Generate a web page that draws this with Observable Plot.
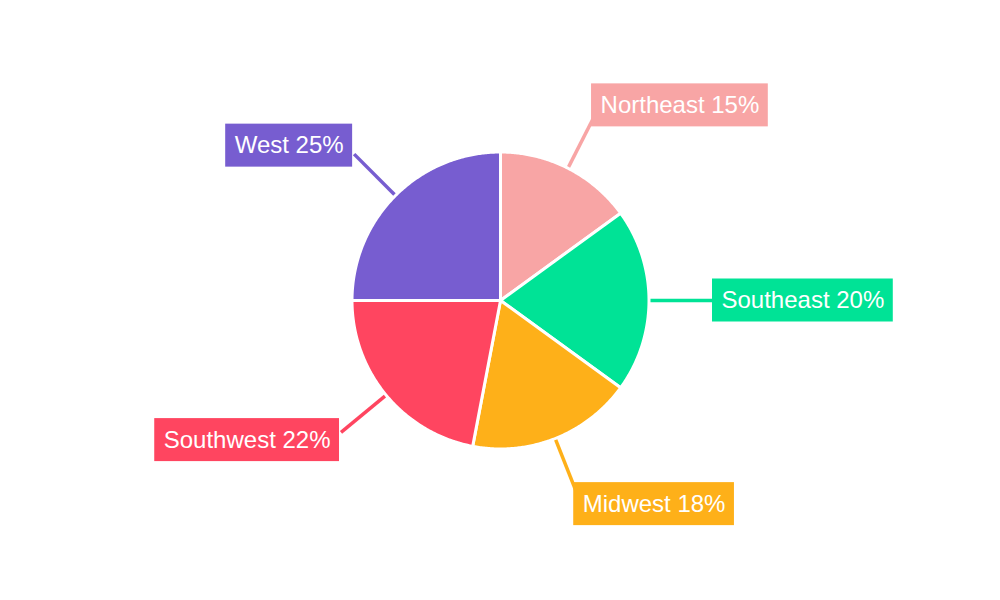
<!DOCTYPE html>
<html>
<head>
<meta charset="utf-8">
<script src="https://cdn.jsdelivr.net/npm/d3@7"></script>
<script src="https://cdn.jsdelivr.net/npm/@observablehq/plot@0.6"></script>
<style>
  html, body { margin: 0; padding: 0; background: #fff; }
  #chart { width: 1000px; height: 600px; }
</style>
</head>
<body>
<div id="chart"></div>
<script>
const regions = ["Northeast", "Southeast", "Midwest", "Southwest", "West"];
const shares = [15, 20, 18, 22, 25];
const colors = ["#F8A5A5", "#00E396", "#FEB019", "#FF4560", "#775DD0"];

const W = 1000, H = 600;
const R = 148.5;          // pie radius (scale units = px)
const lineStart = 150;    // leader line start radius
const anchorR = 207;      // leader line end radius
const fontSize = 24;
const fontFamily = "'Liberation Sans', Arial, sans-serif";
const padX = 9, boxH = 43;

const total = d3.sum(shares);
const pie = d3.pie().sort(null).value(d => d)(shares);

// text measurement
const ctx = document.createElement("canvas").getContext("2d");
ctx.font = `${fontSize}px ${fontFamily}`;

const slices = [];
const links = [];
const labels = [];

pie.forEach((p, i) => {
  const a0 = p.startAngle, a1 = p.endAngle;
  const pts = [{x: 0, y: 0}];
  const n = Math.max(2, Math.ceil((a1 - a0) / (Math.PI / 360)));
  for (let k = 0; k <= n; k++) {
    const a = a0 + (a1 - a0) * k / n;
    pts.push({x: R * Math.sin(a), y: -R * Math.cos(a)});
  }
  pts.push({x: 0, y: 0});
  slices.push({region: regions[i], color: colors[i], pts});

  const m = (a0 + a1) / 2;
  const sx = Math.sin(m), sy = -Math.cos(m);
  const ax = anchorR * sx, ay = anchorR * sy;

  const text = `${regions[i]} ${Math.round(shares[i] / total * 100)}%`;
  const tw = ctx.measureText(text).width;
  const bw = tw + 2 * padX;
  const cy = ay + 12 * sy * (Math.abs(sy) > 0.3 ? 1 : 0);
  const right = sx >= 0;
  const bx1 = right ? ax - 3 + 8 * Math.pow(sx, 6) : ax - bw - 1.5;
  links.push({x1: lineStart * sx, y1: lineStart * sy,
              x2: right ? Math.max(ax, bx1 + 2) : ax, y2: ay, color: colors[i]});
  labels.push({
    text, color: colors[i],
    x1: bx1, x2: bx1 + bw, y1: cy - boxH / 2, y2: cy + boxH / 2,
    tx: bx1 + padX, ty: cy
  });
});

const marks = [];
slices.forEach(s => {
  marks.push(Plot.line(s.pts, {
    x: "x", y: "y", fill: s.color, stroke: "white",
    strokeWidth: 3, strokeLinejoin: "round", curve: "linear"
  }));
});
marks.push(Plot.link(links, {
  x1: "x1", y1: "y1", x2: "x2", y2: "y2",
  stroke: d => d.color, strokeWidth: 3.5
}));
marks.push(Plot.rect(labels, {
  x1: "x1", x2: "x2", y1: "y1", y2: "y2", fill: d => d.color
}));
marks.push(Plot.text(labels, {
  x: "tx", y: "ty", text: "text", fill: "white",
  fontSize, fontFamily, textAnchor: "start", lineAnchor: "middle"
}));

const chart = Plot.plot({
  width: W, height: H,
  marginTop: 0, marginRight: 0, marginBottom: 0, marginLeft: 0,
  x: {domain: [-W / 2, W / 2], range: [0, W], axis: null},
  y: {domain: [-H / 2, H / 2], range: [0, H], axis: null},
  color: {type: "identity"},
  style: {background: "white", fontFamily},
  marks
});
document.getElementById("chart").appendChild(chart);
</script>
</body>
</html>
